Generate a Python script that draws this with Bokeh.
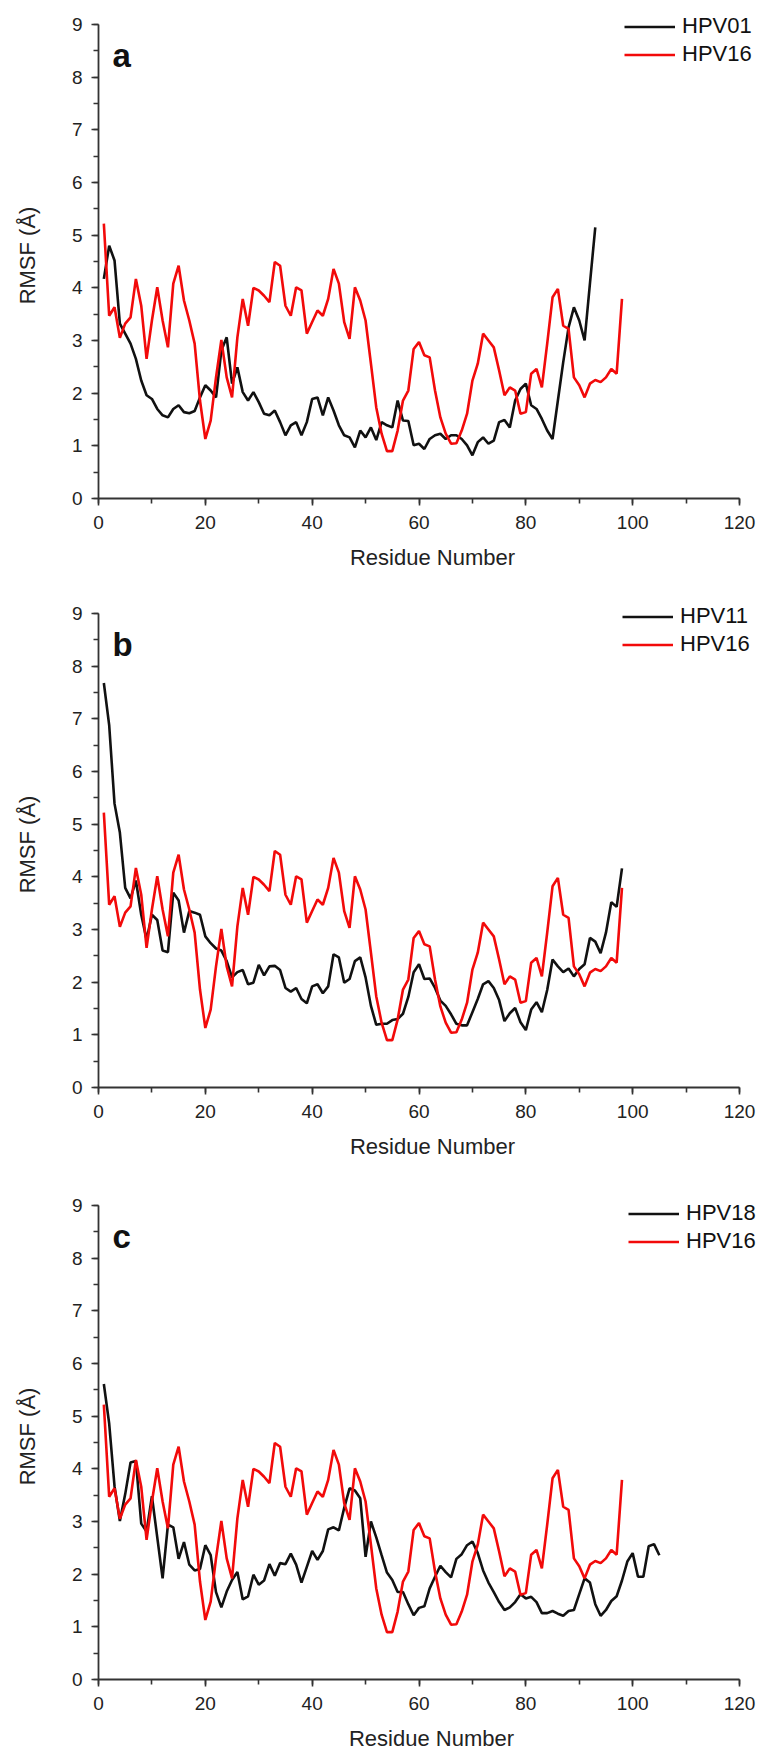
from bokeh.plotting import figure
from bokeh.models import Range1d, Legend, LegendItem, Label, SingleIntervalTicker
from bokeh.layouts import column
from bokeh.embed import file_html
from bokeh.resources import INLINE

# ---------------- data ----------------
x_ticks = [0, 20, 40, 60, 80, 100, 120]
y_ticks = [0, 1, 2, 3, 4, 5, 6, 7, 8, 9]

hpv16 = [5.22, 3.47, 3.63, 3.05, 3.32, 3.44, 4.17, 3.66, 2.65, 3.38,
         4.01, 3.38, 2.87, 4.08, 4.42, 3.76, 3.38, 2.94, 1.86, 1.13,
         1.48, 2.30, 3.01, 2.30, 1.92, 3.06, 3.79, 3.28, 4.00, 3.95,
         3.85, 3.73, 4.49, 4.42, 3.66, 3.47, 4.01, 3.95, 3.13, 3.35,
         3.57, 3.47, 3.79, 4.36, 4.08, 3.35, 3.03, 4.01, 3.76, 3.38,
         2.56, 1.73, 1.23, 0.90, 0.90, 1.29, 1.86, 2.05, 2.84, 2.97,
         2.72, 2.68, 2.05, 1.54, 1.23, 1.04, 1.05, 1.29, 1.61, 2.24,
         2.56, 3.13, 3.00, 2.87, 2.43, 1.96, 2.11, 2.05, 1.61, 1.64,
         2.37, 2.46, 2.11, 2.94, 3.82, 3.98, 3.28, 3.22, 2.30, 2.15,
         1.92, 2.18, 2.25, 2.21, 2.30, 2.46, 2.37, 3.79]

hpv01 = [4.17, 4.80, 4.52, 3.32, 3.13, 2.94, 2.65, 2.24, 1.96, 1.89,
         1.70, 1.58, 1.54, 1.70, 1.77, 1.64, 1.62, 1.66, 1.92, 2.15,
         2.05, 1.92, 2.81, 3.06, 2.18, 2.49, 2.02, 1.86, 2.02, 1.83,
         1.61, 1.58, 1.67, 1.45, 1.20, 1.39, 1.45, 1.20, 1.45, 1.89,
         1.92, 1.58, 1.92, 1.67, 1.39, 1.20, 1.16, 0.97, 1.29, 1.16,
         1.35, 1.11, 1.45, 1.39, 1.35, 1.86, 1.48, 1.47, 1.01, 1.04,
         0.94, 1.13, 1.20, 1.23, 1.13, 1.20, 1.20, 1.13, 1.01, 0.82,
         1.07, 1.16, 1.04, 1.10, 1.45, 1.49, 1.35, 1.86, 2.08, 2.18,
         1.77, 1.70, 1.51, 1.29, 1.13, 1.86, 2.59, 3.25, 3.63, 3.38,
         3.00, 4.08, 5.15]

hpv11 = [7.68, 6.88, 5.39, 4.84, 3.79, 3.59, 3.93, 3.28, 2.81, 3.28,
         3.18, 2.60, 2.57, 3.70, 3.55, 2.94, 3.35, 3.32, 3.28, 2.87,
         2.74, 2.64, 2.60, 2.40, 2.09, 2.19, 2.23, 1.96, 1.99, 2.33,
         2.13, 2.30, 2.31, 2.23, 1.89, 1.82, 1.89, 1.68, 1.60, 1.92,
         1.96, 1.79, 1.92, 2.53, 2.47, 1.99, 2.06, 2.40, 2.47, 2.09,
         1.55, 1.19, 1.21, 1.21, 1.28, 1.30, 1.40, 1.72, 2.19, 2.34,
         2.06, 2.07, 1.89, 1.65, 1.55, 1.39, 1.21, 1.18, 1.18, 1.43,
         1.68, 1.96, 2.02, 1.89, 1.66, 1.26, 1.41, 1.51, 1.24, 1.09,
         1.48, 1.62, 1.43, 1.85, 2.43, 2.30, 2.19, 2.26, 2.11, 2.25,
         2.34, 2.84, 2.77, 2.55, 2.94, 3.52, 3.43, 4.16]

hpv18 = [5.61, 4.86, 3.67, 3.01, 3.52, 4.12, 4.15, 2.96, 2.81, 3.48,
         2.70, 1.92, 2.94, 2.89, 2.29, 2.61, 2.18, 2.07, 2.10, 2.55,
         2.36, 1.66, 1.37, 1.67, 1.89, 2.04, 1.52, 1.58, 1.99, 1.80,
         1.88, 2.19, 1.97, 2.21, 2.19, 2.39, 2.18, 1.84, 2.14, 2.44,
         2.27, 2.44, 2.85, 2.89, 2.83, 3.26, 3.63, 3.59, 3.44, 2.33,
         3.00, 2.70, 2.36, 2.03, 1.89, 1.66, 1.66, 1.43, 1.22, 1.36,
         1.39, 1.73, 1.95, 2.16, 2.04, 1.94, 2.29, 2.38, 2.55, 2.62,
         2.40, 2.07, 1.84, 1.66, 1.47, 1.32, 1.37, 1.47, 1.62, 1.54,
         1.57, 1.47, 1.26, 1.26, 1.30, 1.25, 1.21, 1.30, 1.32, 1.62,
         1.92, 1.84, 1.43, 1.21, 1.32, 1.49, 1.58, 1.88, 2.24, 2.40,
         1.95, 1.95, 2.53, 2.57, 2.36]

# letter, legend name, series, left border, frame width, top, bottom, legend x, legend y
panels = [
    ("a", "HPV01", hpv01, 93, 668, 12, 91, 534, 431),
    ("b", "HPV11", hpv11, 95, 668, 12, 94, 532, 430),
    ("c", "HPV18", hpv18, 98, 666, 12, 77, 530, 425),
]

FONT = "Liberation Sans"
RED = "#f20a0a"
AX_W = 641      # pixels for 0..120
AX_H = 474      # pixels for 0..9
EXT_TOP = 12    # extra frame pixels above y=9 (room for the legend)


def make_panel(letter, name, series, left, fw, top, bottom, leg_x, leg_y):
    fh = AX_H + EXT_TOP
    p = figure(frame_width=fw, frame_height=fh,
               min_border_left=left, min_border_right=764 - left - fw,
               min_border_top=top, min_border_bottom=bottom,
               x_range=Range1d(0, 120.0 * fw / AX_W),
               y_range=Range1d(0, 9.0 * fh / AX_H),
               output_backend="svg", toolbar_location=None,
               background_fill_color="white", border_fill_color="white")
    p.outline_line_color = None
    p.grid.visible = False

    xs_black = list(range(1, len(series) + 1))
    xs_red = list(range(1, len(hpv16) + 1))
    rb = p.line(xs_black, series, line_color="#111111", line_width=2.6)
    rr = p.line(xs_red, hpv16, line_color=RED, line_width=2.6)

    p.xaxis.ticker = SingleIntervalTicker(interval=20, num_minor_ticks=2)
    p.yaxis.ticker = SingleIntervalTicker(interval=1, num_minor_ticks=2)
    p.xaxis.bounds = (x_ticks[0], x_ticks[-1])
    p.yaxis.bounds = (y_ticks[0], y_ticks[-1])
    for ax in (p.xaxis, p.yaxis):
        ax.axis_line_width = 1.8
        ax.axis_line_color = "#333333"
        ax.major_tick_line_color = "#333333"
        ax.minor_tick_line_color = "#333333"
        ax.major_tick_line_width = 1.6
        ax.minor_tick_line_width = 1.6
        ax.major_tick_in = 0
        ax.major_tick_out = 7
        ax.minor_tick_in = 0
        ax.minor_tick_out = 5
        ax.major_label_text_font = FONT
        ax.major_label_text_font_size = "19px"
        ax.major_label_text_color = "#222222"
        ax.axis_label_text_font = FONT
        ax.axis_label_text_font_size = "22px"
        ax.axis_label_text_font_style = "normal"
        ax.axis_label_text_color = "#222222"
    p.xaxis.axis_label = "Residue Number"
    p.yaxis.axis_label = "RMSF (Å)"
    p.xaxis.major_label_standoff = 10
    p.xaxis.axis_label_standoff = 13
    p.yaxis.major_label_standoff = 9
    p.yaxis.axis_label_standoff = 29

    legend = Legend(items=[LegendItem(label=name, renderers=[rb]),
                           LegendItem(label="HPV16", renderers=[rr])],
                    location=(leg_x, leg_y))
    legend.padding = 0
    legend.margin = 0
    legend.spacing = 2
    legend.glyph_width = 51
    legend.glyph_height = 25
    legend.label_height = 25
    legend.label_standoff = 7
    legend.label_text_font = FONT
    legend.label_text_font_size = "22px"
    legend.label_text_color = "#111111"
    legend.border_line_alpha = 0
    legend.background_fill_alpha = 0
    p.add_layout(legend, "center")

    p.add_layout(Label(x=2.6, y=8.42, text=letter, text_font=FONT,
                       text_font_size="33px", text_font_style="bold",
                       text_color="#111111", text_baseline="alphabetic"))
    return p


figs = [make_panel(*args) for args in panels]
layout = column(*figs, spacing=0)

with open("out.html", "w") as f:
    f.write(file_html(layout, INLINE))
